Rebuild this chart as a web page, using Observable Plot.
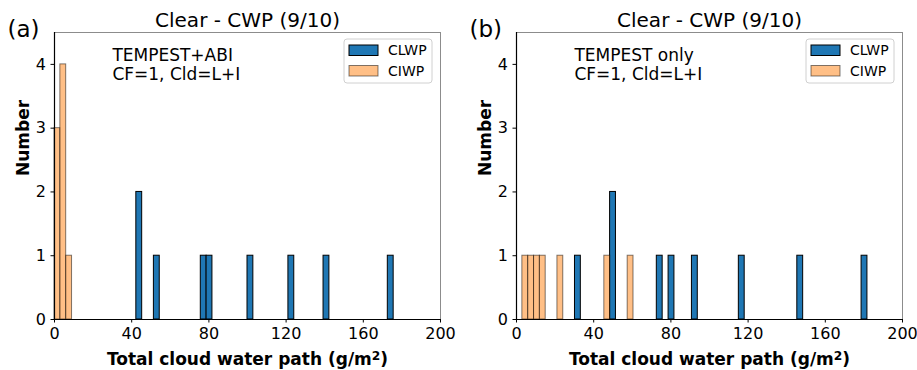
<!DOCTYPE html>
<html>
<head>
<meta charset="utf-8">
<script src="https://cdn.jsdelivr.net/npm/d3@7"></script>
<script src="https://cdn.jsdelivr.net/npm/@observablehq/plot@0.6"></script>
<style>
  html, body { margin: 0; padding: 0; background: white; }
  #wrap { display: flex; flex-direction: row; width: 917px; height: 370px; }
  svg { display: block; }
</style>
</head>
<body>
<div id="wrap"></div>
<script>
// ---- data (histogram bins) ----
const binWidth = 3.03;            // g/m^2, common bin width
const xTicks = [0, 40, 80, 120, 160, 200];
const yTicks = [0, 1, 2, 3, 4];
const seriesNames = ["CLWP", "CIWP"];
const titleText = "Clear - CWP (9/10)";
const xLabelMain = "Total cloud water path (g/m";
const xLabelSup = "2";
const xLabelEnd = ")";
const yLabel = "Number";

// Panel (a): TEMPEST+ABI
const aClwpStart = [42.4, 51.5, 75.8, 78.8, 100.0, 121.2, 139.4, 172.7];
const aClwpCount = [2, 1, 1, 1, 1, 1, 1, 1];
const aCiwpStart = [0.0, 3.03, 6.06];
const aCiwpCount = [3, 4, 1];

// Panel (b): TEMPEST only
const bClwpStart = [30.3, 48.5, 72.7, 78.8, 90.9, 115.2, 145.5, 178.8];
const bClwpCount = [1, 2, 1, 1, 1, 1, 1, 1];
const bCiwpStart = [3.03, 6.06, 9.09, 12.1, 21.2, 45.5, 57.6];
const bCiwpCount = [1, 1, 1, 1, 1, 1, 1];

const colors = { CLWP: "#1f77b4", CIWP: "#ff7f0e" };
const FONT = "DejaVu Sans, sans-serif";

function bins(starts, counts) {
  return starts.map((s, i) => ({ x1: s, x2: s + binWidth, n: counts[i] }));
}

function panel({ tag, note, clwp, ciwp, width, marginLeft, marginRight }) {
  const marginTop = 32, marginBottom = 51, height = 370;
  const xLabelFull = xLabelMain + xLabelSup + xLabelEnd;
  const svg = Plot.plot({
    width, height, marginTop, marginBottom, marginLeft, marginRight,
    style: { fontFamily: FONT, fontSize: "16px", color: "black", background: "white", overflow: "visible" },
    x: { domain: [0, 200] },
    y: { domain: [0, 4.5] },
    marks: [
      Plot.frame({ stroke: "#8c8c8c", strokeWidth: 1 }),
      Plot.rect(clwp, { x1: "x1", x2: "x2", y1: 0, y2: "n", fill: colors.CLWP, stroke: "black", strokeWidth: 1 }),
      Plot.rect(ciwp, { x1: "x1", x2: "x2", y1: 0, y2: "n", fill: colors.CIWP, fillOpacity: 0.5, stroke: "black", strokeOpacity: 0.5, strokeWidth: 1 }),
      Plot.ruleY([0], { stroke: "black", strokeWidth: 1.2 }),
      Plot.ruleX([0], { stroke: "black", strokeWidth: 1.2 }),
      Plot.axisX({ ticks: xTicks, tickSize: 3.5, tickPadding: 5, fontSize: 16, label: null, tickFormat: d3.format("d") }),
      Plot.axisY({ ticks: yTicks, tickSize: 3.5, tickPadding: 5, fontSize: 16, label: null, tickFormat: d3.format("d") }),
      Plot.text([titleText], { text: d => d, frameAnchor: "top", lineAnchor: "bottom", dy: -6, fontSize: 20 }),
      Plot.text([tag], { text: d => d, frameAnchor: "top-left", textAnchor: "start", lineAnchor: "bottom", dx: -47, dy: 4, fontSize: 23 }),
      Plot.text([xLabelFull], { text: d => d, frameAnchor: "bottom", lineAnchor: "bottom", dy: 45.5, fontSize: 17, fontWeight: "bold", className: "xlab" }),
      Plot.text([yLabel], { text: d => d, frameAnchor: "left", lineAnchor: "middle", rotate: -90, dx: -30.5, fontSize: 17, fontWeight: "bold" }),
      Plot.text([note], { text: d => d, frameAnchor: "top-left", textAnchor: "start", lineAnchor: "top", dx: 0.15 * (width - marginLeft - marginRight), dy: 15, fontSize: 17, lineHeight: 1.13 })
    ]
  });

  // real superscript for the "2" in g/m2
  d3.select(svg).selectAll("g.xlab text").each(function () {
    const t = d3.select(this);
    t.text(null);
    t.append("tspan").text(xLabelMain);
    t.append("tspan").attr("dy", "-0.42em").attr("font-size", "0.72em").text(xLabelSup);
    t.append("tspan").attr("dy", "0.3em").text(xLabelEnd);
  });

  // legend (upper right, matplotlib style)
  const right = width - marginRight;
  const lw = 88, lh = 44;
  const lx = right - 8 - lw, ly = marginTop + 7;
  const g = d3.select(svg).append("g").attr("font-family", FONT).attr("font-size", 14).attr("text-anchor", "start");
  g.append("rect").attr("x", lx).attr("y", ly).attr("width", lw).attr("height", lh)
    .attr("rx", 3).attr("fill", "white").attr("fill-opacity", 0.8).attr("stroke", "#d0d0d0");
  seriesNames.forEach((name, i) => {
    const py = ly + 6 + i * 20.5;
    g.append("rect").attr("x", lx + 5).attr("y", py).attr("width", 29).attr("height", 10.5)
      .attr("fill", colors[name]).attr("fill-opacity", name === "CIWP" ? 0.5 : 1)
      .attr("stroke", "black").attr("stroke-opacity", name === "CIWP" ? 0.5 : 1);
    g.append("text").attr("x", lx + 44).attr("y", py + 5.25).attr("dy", "0.35em").text(name);
  });
  return svg;
}

const wrap = document.getElementById("wrap");
wrap.appendChild(panel({
  tag: "(a)", note: "TEMPEST+ABI\nCF=1, Cld=L+I",
  clwp: bins(aClwpStart, aClwpCount), ciwp: bins(aCiwpStart, aCiwpCount),
  width: 458, marginLeft: 54, marginRight: 18
}));
wrap.appendChild(panel({
  tag: "(b)", note: "TEMPEST only\nCF=1, Cld=L+I",
  clwp: bins(bClwpStart, bClwpCount), ciwp: bins(bCiwpStart, bCiwpCount),
  width: 459, marginLeft: 58, marginRight: 15
}));
</script>
</body>
</html>
